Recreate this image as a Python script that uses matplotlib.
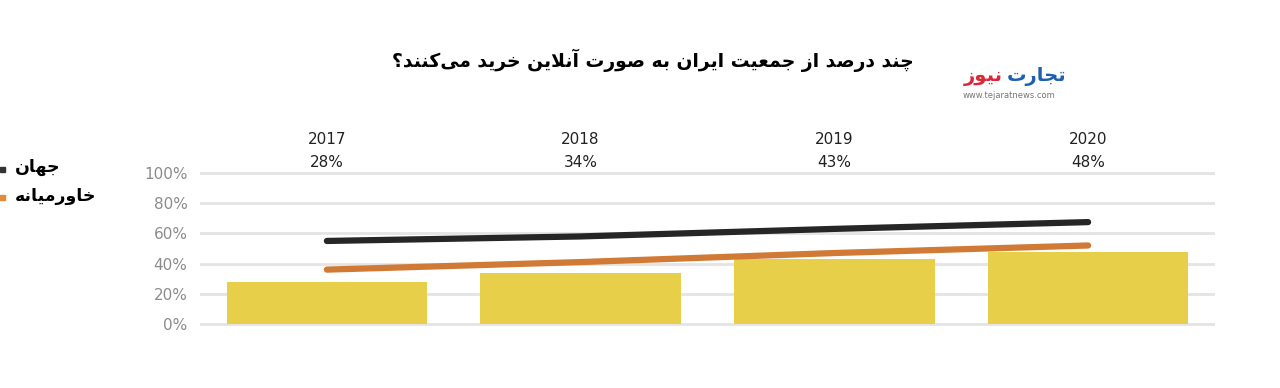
import matplotlib
matplotlib.use("Agg")
import matplotlib.pyplot as plt
import numpy as np

# data
years = ["2017", "2018", "2019", "2020"]
iran = [28, 34, 43, 48]
world = [55, 58, 63, 67.5]
middle_east = [36, 41, 47, 52]
yticks = [0, 20, 40, 60, 80, 100]

title = "چند درصد از جمعیت ایران به صورت آنلاین خرید می\u200cکنند؟"
label_world = "جهان"
label_me = "خاورمیانه"

# minimal persian shaping (matplotlib does no arabic joining / bidi)
FORMS = {
    "ا": ("\ufe8d", "\ufe8e", None, None),
    "آ": ("\ufe81", "\ufe82", None, None),
    "ب": ("\ufe8f", "\ufe90", "\ufe91", "\ufe92"),
    "ت": ("\ufe95", "\ufe96", "\ufe97", "\ufe98"),
    "ج": ("\ufe9d", "\ufe9e", "\ufe9f", "\ufea0"),
    "خ": ("\ufea5", "\ufea6", "\ufea7", "\ufea8"),
    "د": ("\ufea9", "\ufeaa", None, None),
    "ر": ("\ufead", "\ufeae", None, None),
    "ز": ("\ufeaf", "\ufeb0", None, None),
    "ص": ("\ufeb9", "\ufeba", "\ufebb", "\ufebc"),
    "ع": ("\ufec9", "\ufeca", "\ufecb", "\ufecc"),
    "ل": ("\ufedd", "\ufede", "\ufedf", "\ufee0"),
    "م": ("\ufee1", "\ufee2", "\ufee3", "\ufee4"),
    "ن": ("\ufee5", "\ufee6", "\ufee7", "\ufee8"),
    "ه": ("\ufee9", "\ufeea", "\ufeeb", "\ufeec"),
    "و": ("\ufeed", "\ufeee", None, None),
    "ی": ("\ufbfc", "\ufbfd", "\ufbfe", "\ufbff"),
    "چ": ("\ufb7a", "\ufb7b", "\ufb7c", "\ufb7d"),
    "ک": ("\ufb8e", "\ufb8f", "\ufb90", "\ufb91"),
}
LAM_ALEF = {"ا": ("\ufefb", "\ufefc"), "آ": ("\ufef5", "\ufef6")}


def joins_next(ch):
    return ch in FORMS and FORMS[ch][2] is not None


def shape(text):
    chars = list(text)
    out = []
    i = 0
    while i < len(chars):
        c = chars[i]
        if c not in FORMS:
            if c != "\u200c":
                out.append(c)
            i += 1
            continue
        prev = chars[i - 1] if i > 0 else ""
        conn_prev = joins_next(prev)
        if c == "ل" and i + 1 < len(chars) and chars[i + 1] in LAM_ALEF:
            out.append(LAM_ALEF[chars[i + 1]][1 if conn_prev else 0])
            i += 2
            continue
        nxt = chars[i + 1] if i + 1 < len(chars) else ""
        conn_next = joins_next(c) and nxt in FORMS
        iso, fin, ini, med = FORMS[c]
        if conn_prev and conn_next:
            out.append(med)
        elif conn_prev:
            out.append(fin)
        elif conn_next:
            out.append(ini)
        else:
            out.append(iso)
        i += 1
    return "".join(out)[::-1]


fig = plt.figure(figsize=(12.8, 3.88), dpi=100)
ax = fig.add_axes([200 / 1280, 1 - 336 / 388, 1015 / 1280, 175 / 388])

x = np.arange(len(years))
ax.bar(x, iran, width=0.79, color="#e8cf4a", zorder=2)
ax.plot(x, world, color="#262626", lw=4.5, solid_capstyle="round", zorder=3)
ax.plot(x, middle_east, color="#d07a35", lw=4.5, solid_capstyle="round", zorder=3)

ax.set_xlim(-0.5, 3.5)
ax.set_ylim(-8, 108)
ax.set_yticks(yticks)
ax.set_yticklabels([f"{v}%" for v in yticks], color="#8c8c8c", fontsize=11)
ax.tick_params(axis="y", length=0, pad=9)
ax.set_xticks([])
for v in yticks:
    ax.axhline(v, color="#e4e4e4", lw=2, zorder=1)
for s in ax.spines.values():
    s.set_visible(False)

for xi, yr, v in zip(x, years, iran):
    ax.text(xi, 122, yr, ha="center", va="center", fontsize=11, color="#222222")
    ax.text(xi, 107, f"{v}%", ha="center", va="center", fontsize=11, color="#222222")

# title and logo
fig.text(653 / 1280, 1 - 60 / 388, shape(title), ha="center", va="center",
         fontsize=13.5, fontweight="bold", color="black", family="DejaVu Sans")
fig.text(1037 / 1280, 1 - 76 / 388, shape("تجارت"), ha="center", va="center",
         fontsize=14, fontweight="bold", color="#1f5fb0", family="DejaVu Sans")
fig.text(983 / 1280, 1 - 76 / 388, shape("نیوز"), ha="center", va="center",
         fontsize=14, fontweight="bold", color="#d8283a", family="DejaVu Sans")
fig.text(1009 / 1280, 1 - 96 / 388, "www.tejaratnews.com", ha="center", va="center",
         fontsize=6, color="#777777")

# legend on the left, markers clipped at the edge
fig.text(15 / 1280, 1 - 167 / 388, shape(label_world), ha="left", va="center",
         fontsize=12.5, fontweight="bold", color="black", family="DejaVu Sans")
fig.text(15 / 1280, 1 - 196 / 388, shape(label_me), ha="left", va="center",
         fontsize=12.5, fontweight="bold", color="black", family="DejaVu Sans")
fig.patches.append(plt.Rectangle((0, 1 - 172 / 388), 5 / 1280, 5 / 388,
                                 transform=fig.transFigure, color="#333333"))
fig.patches.append(plt.Rectangle((0, 1 - 200 / 388), 5 / 1280, 5 / 388,
                                 transform=fig.transFigure, color="#e08a3a"))

fig.savefig("out.png", dpi=100, facecolor="white")
